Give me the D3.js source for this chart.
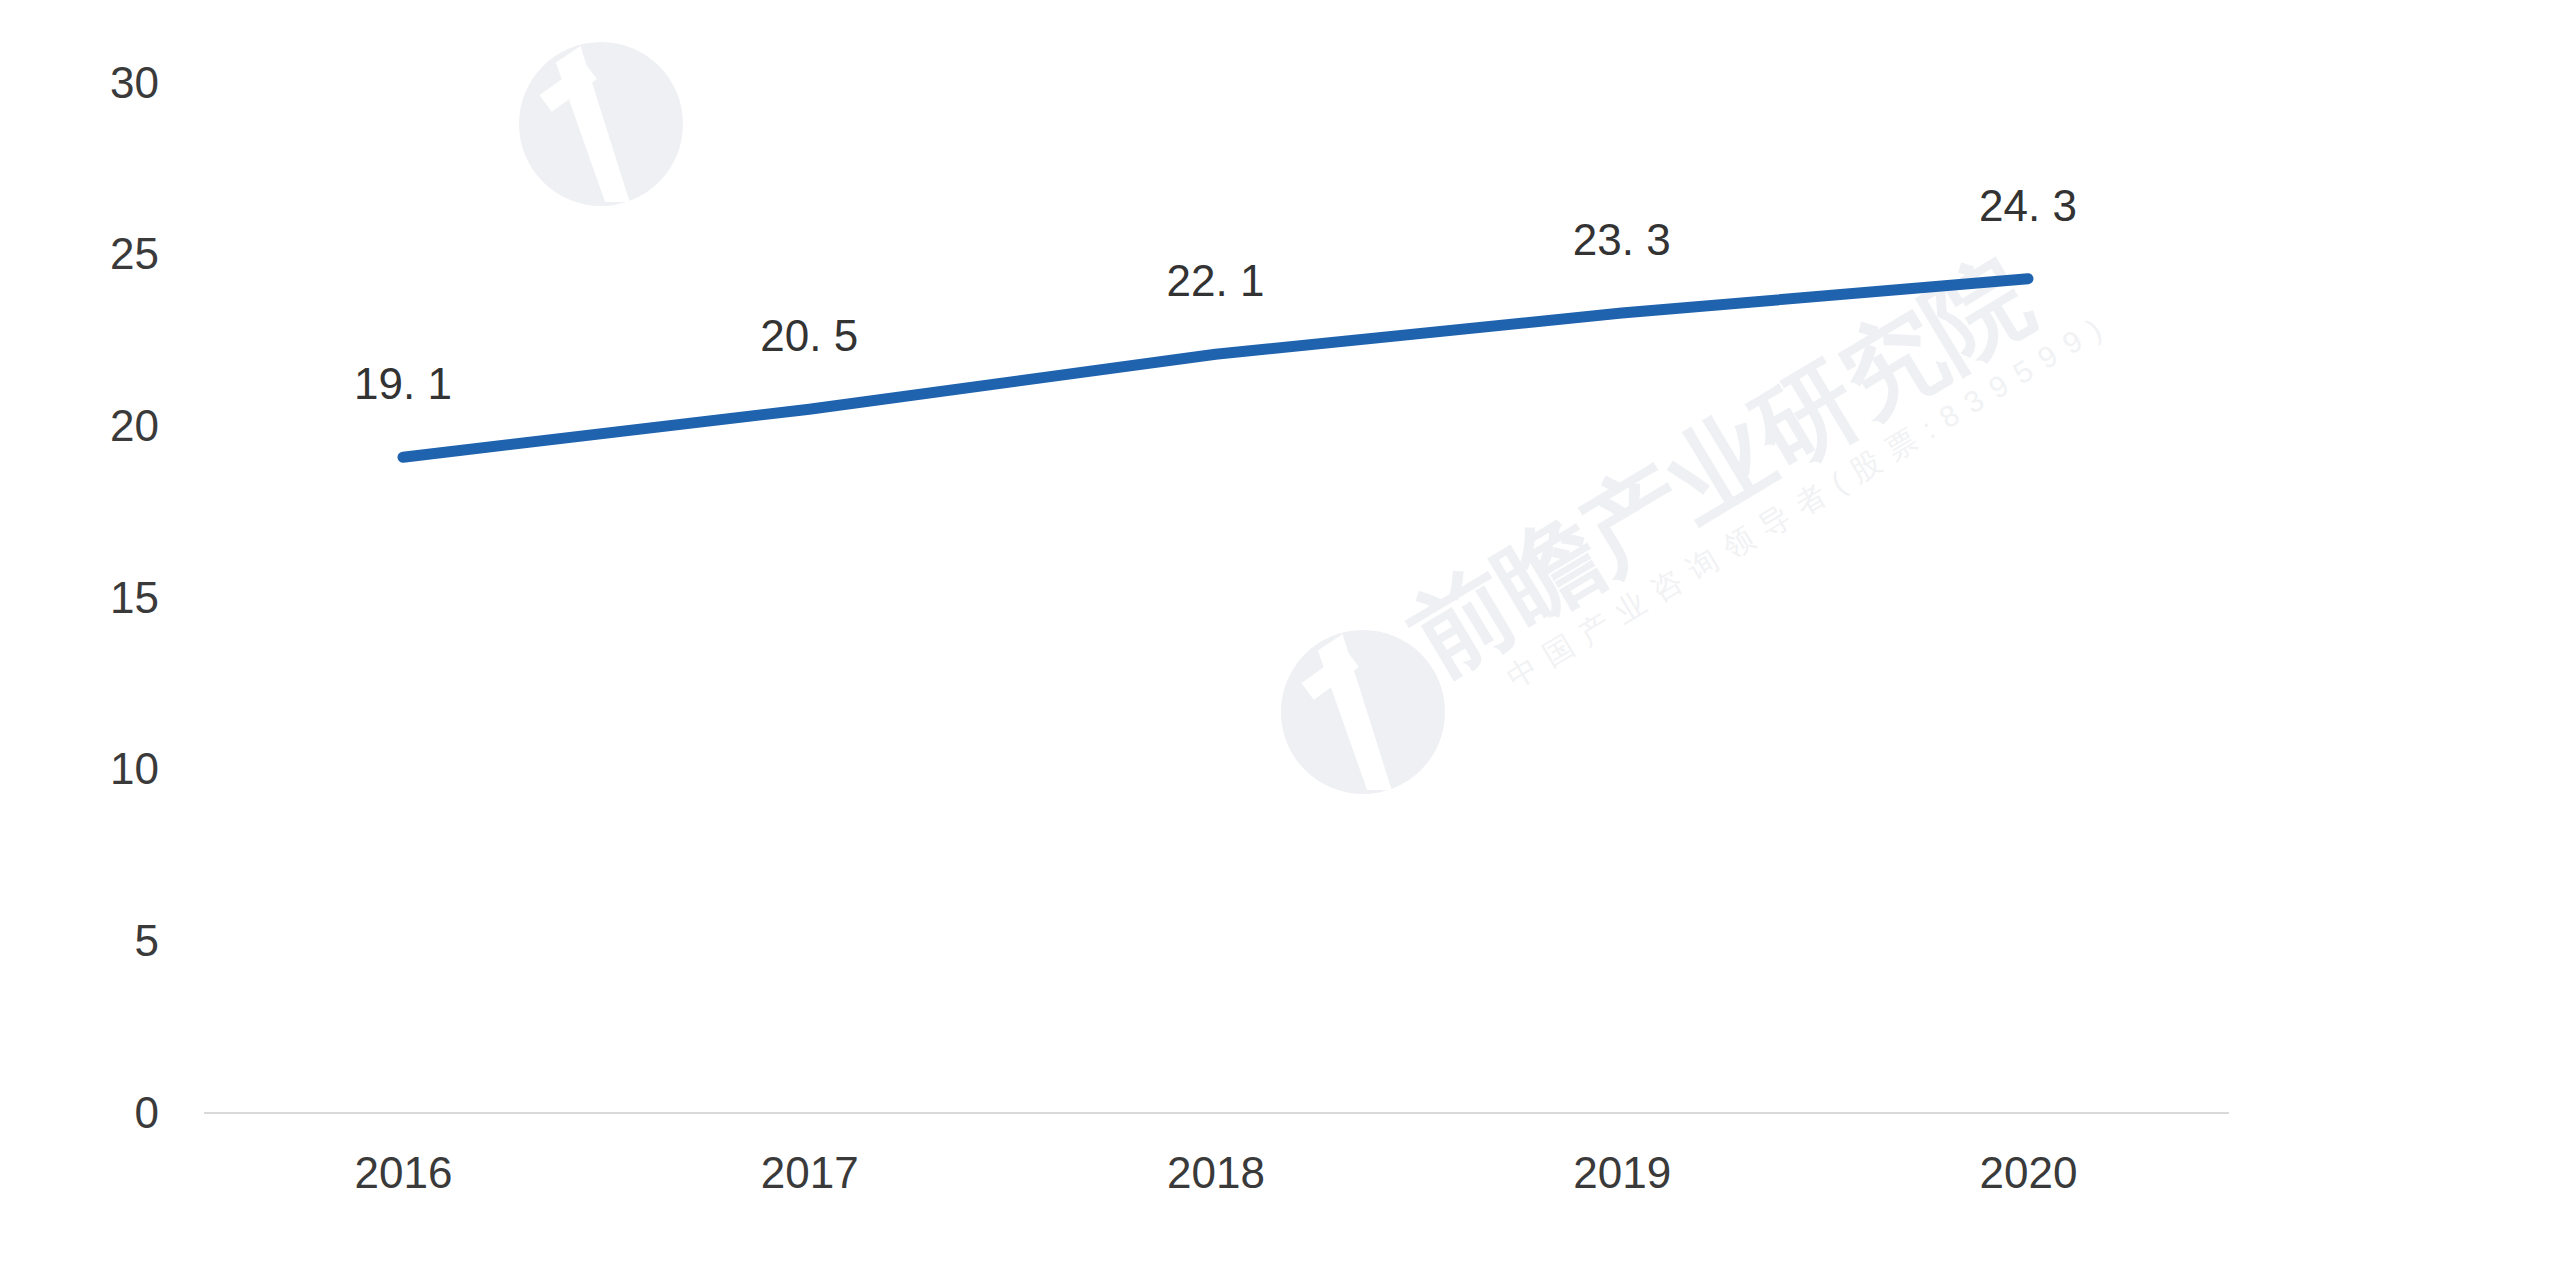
<!DOCTYPE html>
<html>
<head>
<meta charset="utf-8">
<script src="https://cdn.jsdelivr.net/npm/d3@7"></script>
<style>
  html, body { margin: 0; padding: 0; background: #ffffff; }
  svg { display: block; }
  text { font-family: "Liberation Sans", Arial, sans-serif; }
</style>
</head>
<body>
<svg id="chart" width="2560" height="1264"></svg>
<script>
// ---- data ----
const years = ["2016", "2017", "2018", "2019", "2020"];
const values = [19.1, 20.5, 22.1, 23.3, 24.3];
const yTicks = [0, 5, 10, 15, 20, 25, 30];

const svg = d3.select("#chart");

// ---- faint watermarks (decoration) ----
const wm = svg.append("g").attr("class", "watermark");
function logo(cx, cy, r) {
  const g = wm.append("g").attr("transform", `translate(${cx},${cy})`);
  g.append("circle").attr("r", r).attr("fill", "#eff0f3");
  g.append("path")
    .attr("d", `M${-r*0.55},${-r*0.75} L${-r*0.25},${-r*0.95} L${r*0.35},${r*0.95} L${r*0.05},${r*0.95} Z`)
    .attr("fill", "#ffffff");
  g.append("path")
    .attr("d", `M${-r*0.75},${-r*0.35} L${-r*0.2},${-r*0.75} L${-r*0.05},${-r*0.55} L${-r*0.6},${-r*0.15} Z`)
    .attr("fill", "#ffffff");
}
function wmText(x0, y0, angle, fs) {
  const t = wm.append("g").attr("transform", `translate(${x0},${y0}) rotate(${angle})`);
  t.append("text").text("前瞻产业研究院")
    .attr("font-family", "Noto Sans CJK SC").attr("font-weight", 700)
    .attr("font-size", fs).attr("fill", "#eff0f3");
  t.append("text").text("中国产业咨询领导者(股票:839599)")
    .attr("x", fs * 0.6).attr("y", fs * 0.5)
    .attr("font-family", "Noto Sans CJK SC")
    .attr("font-size", fs * 0.3).attr("letter-spacing", fs * 0.12).attr("fill", "#f1f2f4");
}
logo(1363, 712, 82);
wmText(1438, 677, -31, 100);
logo(601, 124, 82);

// ---- scales ----
const x = d3.scalePoint().domain(years).range([403, 2028]);
const y = d3.scaleLinear().domain([0, 30]).range([1113, 83]);

// ---- x axis ----
const xAxis = svg.append("g").attr("transform", `translate(0,${y(0)})`)
  .call(d3.axisBottom(x).tickSize(0).tickPadding(44));
xAxis.select(".domain").remove();
xAxis.append("line").attr("x1", 204).attr("x2", 2229)
  .attr("stroke", "#d9d9d9").attr("stroke-width", 2);
xAxis.selectAll(".tick text")
  .attr("font-size", 44).attr("fill", "#3a3a3a")
  .attr("font-family", "Liberation Sans, Arial, sans-serif");

// ---- y axis ----
const yAxis = svg.append("g").attr("transform", "translate(159,0)")
  .call(d3.axisLeft(y).tickValues(yTicks).tickSize(0).tickPadding(0));
yAxis.select(".domain").remove();
yAxis.selectAll(".tick text")
  .attr("font-size", 44).attr("fill", "#3a3a3a")
  .attr("font-family", "Liberation Sans, Arial, sans-serif");

// ---- line ----
const line = d3.line()
  .x((d, i) => x(years[i]))
  .y(d => y(d));
svg.append("path").datum(values)
  .attr("d", line)
  .attr("fill", "none")
  .attr("stroke", "#1f62ae")
  .attr("stroke-width", 11)
  .attr("stroke-linecap", "round")
  .attr("stroke-linejoin", "round");

// ---- value labels ----
svg.append("g").selectAll("text").data(values).join("text")
  .attr("x", (d, i) => x(years[i]))
  .attr("y", d => y(d) - 58)
  .attr("text-anchor", "middle")
  .attr("font-size", 44)
  .attr("fill", "#333333")
  .text(d => d3.format(".1f")(d).replace(".", ". "));
</script>
</body>
</html>
